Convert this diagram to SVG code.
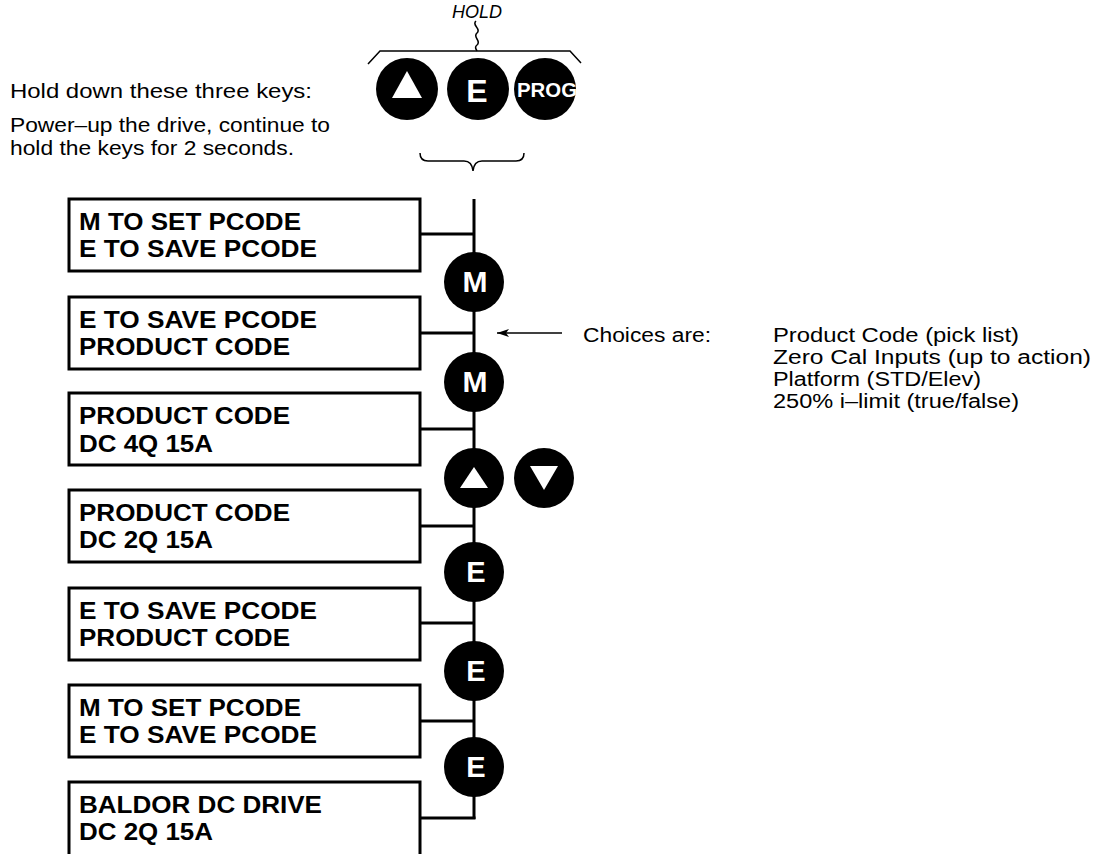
<svg xmlns="http://www.w3.org/2000/svg" width="1104" height="854" viewBox="0 0 1104 854">
<style>
.box{fill:#fff;stroke:#000;stroke-width:3}
.lcd{font-family:"Liberation Sans",Arial,sans-serif;font-weight:bold;font-size:24px;fill:#000}
.txt{font-family:"Liberation Sans",Arial,sans-serif;font-size:19.5px;fill:#000}
.key{fill:#000}
.kl{font-family:"Liberation Sans",Arial,sans-serif;font-weight:bold;fill:#fff;text-anchor:middle}
.wire{fill:none;stroke:#000;stroke-width:3}
.thin{fill:none;stroke:#000;stroke-width:1.5}
</style>
<defs>
<marker id="ah" viewBox="0 0 12 8" refX="12" refY="4" markerWidth="12" markerHeight="8" markerUnits="userSpaceOnUse" orient="auto">
<path d="M0,0 L12,4 L0,8 L3,4 Z" fill="#000"/>
</marker>
</defs>

<g id="hold-label">
<text x="477" y="18" font-family="Liberation Sans, Arial, sans-serif" font-style="italic" font-size="18" text-anchor="middle">HOLD</text>
<path class="thin" d="M476,21 C471,25 482,29 477,33 C472,37 482,41 477,45 C474,47 476,49 477,51"/>
<path class="thin" d="M368,64 L380,51 L570,51 L581,63"/>
</g>

<g id="instructions">
<text class="txt" x="10" y="98" textLength="302" lengthAdjust="spacingAndGlyphs">Hold down these three keys:</text>
<text class="txt" x="10" y="132" textLength="320" lengthAdjust="spacingAndGlyphs">Power–up the drive, continue to</text>
<text class="txt" x="10" y="155" textLength="284" lengthAdjust="spacingAndGlyphs">hold the keys for 2 seconds.</text>
</g>

<g id="hold-keys">
<circle class="key" cx="407" cy="89" r="31"/>
<polygon points="407,71 392,98 422,98" fill="#fff"/>
<circle class="key" cx="478" cy="89" r="31"/>
<text class="kl" x="477" y="102" font-size="32">E</text>
<circle class="key" cx="545" cy="89" r="31"/>
<text class="kl" x="517" y="97" font-size="21" style="text-anchor:start" textLength="60" lengthAdjust="spacingAndGlyphs">PROG</text>
<path class="thin" d="M420,153 Q420,161 428,161 L464,161 Q472,161 473,171 Q474,161 482,161 L516,161 Q524,161 524,153"/>
</g>

<g id="connectors">
<line class="wire" x1="474" y1="199" x2="474" y2="819"/>
<line class="wire" x1="420" y1="234" x2="474" y2="234"/>
<line class="wire" x1="420" y1="333" x2="474" y2="333"/>
<line class="wire" x1="420" y1="429" x2="474" y2="429"/>
<line class="wire" x1="420" y1="526" x2="474" y2="526"/>
<line class="wire" x1="420" y1="623" x2="474" y2="623"/>
<line class="wire" x1="420" y1="721" x2="474" y2="721"/>
<line class="wire" x1="420" y1="818" x2="475.5" y2="818"/>
<line x1="562" y1="333" x2="497" y2="333" stroke="#000" stroke-width="1.6" marker-end="url(#ah)"/>
</g>

<g id="box1">
<rect class="box" x="69" y="199" width="351" height="72"/>
<text class="lcd" x="79" y="230" textLength="222" lengthAdjust="spacingAndGlyphs">M TO SET PCODE</text>
<text class="lcd" x="79" y="257" textLength="238" lengthAdjust="spacingAndGlyphs">E TO SAVE PCODE</text>
</g>
<g id="box2">
<rect class="box" x="69" y="297" width="351" height="72"/>
<text class="lcd" x="79" y="328" textLength="238" lengthAdjust="spacingAndGlyphs">E TO SAVE PCODE</text>
<text class="lcd" x="79" y="355" textLength="211" lengthAdjust="spacingAndGlyphs">PRODUCT CODE</text>
</g>
<g id="box3">
<rect class="box" x="69" y="393" width="351" height="72"/>
<text class="lcd" x="79" y="424" textLength="211" lengthAdjust="spacingAndGlyphs">PRODUCT CODE</text>
<text class="lcd" x="79" y="452" textLength="134" lengthAdjust="spacingAndGlyphs">DC 4Q 15A</text>
</g>
<g id="box4">
<rect class="box" x="69" y="490" width="351" height="72"/>
<text class="lcd" x="79" y="521" textLength="211" lengthAdjust="spacingAndGlyphs">PRODUCT CODE</text>
<text class="lcd" x="79" y="548" textLength="134" lengthAdjust="spacingAndGlyphs">DC 2Q 15A</text>
</g>
<g id="box5">
<rect class="box" x="69" y="588" width="351" height="72"/>
<text class="lcd" x="79" y="619" textLength="238" lengthAdjust="spacingAndGlyphs">E TO SAVE PCODE</text>
<text class="lcd" x="79" y="646" textLength="211" lengthAdjust="spacingAndGlyphs">PRODUCT CODE</text>
</g>
<g id="box6">
<rect class="box" x="69" y="685" width="351" height="72"/>
<text class="lcd" x="79" y="716" textLength="222" lengthAdjust="spacingAndGlyphs">M TO SET PCODE</text>
<text class="lcd" x="79" y="743" textLength="238" lengthAdjust="spacingAndGlyphs">E TO SAVE PCODE</text>
</g>
<g id="box7">
<rect class="box" x="69" y="782" width="351" height="80"/>
<text class="lcd" x="79" y="813" textLength="243" lengthAdjust="spacingAndGlyphs">BALDOR DC DRIVE</text>
<text class="lcd" x="79" y="840" textLength="134" lengthAdjust="spacingAndGlyphs">DC 2Q 15A</text>
</g>

<g id="key-m1">
<circle class="key" cx="474" cy="282" r="30"/>
<text class="kl" x="475" y="292" font-size="30">M</text>
</g>
<g id="key-m2">
<circle class="key" cx="474" cy="382" r="30"/>
<text class="kl" x="475" y="392" font-size="30">M</text>
</g>
<g id="key-up">
<circle class="key" cx="474" cy="478" r="30"/>
<polygon points="474,467 460,488 488,488" fill="#fff"/>
</g>
<g id="key-down">
<circle class="key" cx="544" cy="478" r="30"/>
<polygon points="530,466 558,466 544,490" fill="#fff"/>
</g>
<g id="key-e1">
<circle class="key" cx="474" cy="572" r="30"/>
<text class="kl" x="476" y="582" font-size="29">E</text>
</g>
<g id="key-e2">
<circle class="key" cx="474" cy="671" r="30"/>
<text class="kl" x="476" y="681" font-size="29">E</text>
</g>
<g id="key-e3">
<circle class="key" cx="474" cy="767" r="30"/>
<text class="kl" x="476" y="777" font-size="29">E</text>
</g>

<g id="choices">
<text class="txt" x="583" y="342" textLength="128" lengthAdjust="spacingAndGlyphs">Choices are:</text>
<text class="txt" x="773" y="342" textLength="246" lengthAdjust="spacingAndGlyphs">Product Code (pick list)</text>
<text class="txt" x="773" y="364" textLength="318" lengthAdjust="spacingAndGlyphs">Zero Cal Inputs (up to action)</text>
<text class="txt" x="773" y="386" textLength="208" lengthAdjust="spacingAndGlyphs">Platform (STD/Elev)</text>
<text class="txt" x="773" y="408" textLength="246" lengthAdjust="spacingAndGlyphs">250% i–limit (true/false)</text>
</g>
</svg>
